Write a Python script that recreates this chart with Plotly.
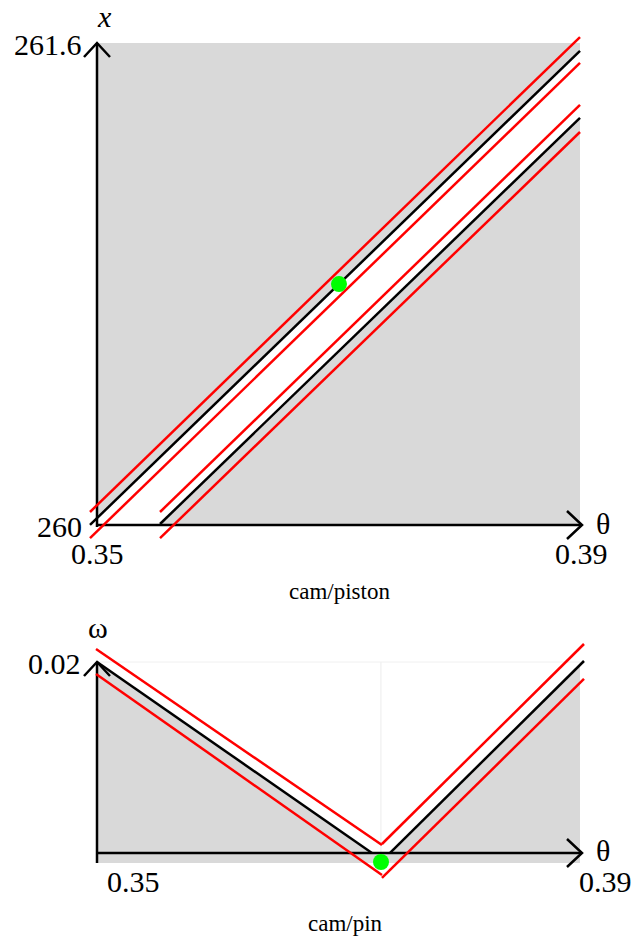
import plotly.graph_objects as go

W, H = 642, 941

# ---------------- data (top: cam/piston) ----------------
theta_range = [0.35, 0.39]
x_range = [260.0, 261.6]
omega_range = [0.0, 0.02]

top_theta_a = [0.34942, 0.39]
top_a_red_hi = [260.040, 261.620]
top_a_black = [259.997, 261.574]
top_a_red_lo = [259.953, 261.534]

top_theta_b = [0.35522, 0.39]
top_b_red_hi = [260.040, 261.394]
top_b_black = [260.000, 261.351]
top_b_red_lo = [259.953, 261.304]

top_point_theta = [0.37004]
top_point_x = [260.798]

# ---------------- data (bottom: cam/pin) ----------------
bot_theta_left_red = [0.34992, 0.37360]
bot_left_red_hi = [0.02129, 0.00179]
bot_left_red_lo = [0.01881, -0.00119]
bot_theta_left_black = [0.35, 0.37277]
bot_left_black = [0.02, 0.00100]

bot_theta_right_red = [0.37360, 0.39033]
bot_right_red_hi = [0.00189, 0.02179]
bot_right_red_lo = [-0.00149, 0.01831]
bot_theta_right_black = [0.37427, 0.39033]
bot_right_black = [0.00100, 0.02010]

bot_point_theta = [0.37352]
bot_point_omega = [0.0001]

top_ticks_x = ["0.35", "0.39"]
top_ticks_y = ["260", "261.6"]
bot_ticks_y = ["0.02"]

RED = "#ff0000"
BLACK = "#000000"
GREEN = "#00ff00"
GRAY = "#d9d9d9"
LW = 2.5
FONT = "Liberation Serif"

# pixel mapping helpers (layout constants)
PX_PER_THETA = 12075.0
TH0_PX = 97
def th_at(px):
    return 0.35 + (px - TH0_PX) / PX_PER_THETA

TOP_Y0_PX = 524
PX_PER_X = 300.6
def xv_at(py):
    return 260.0 + (TOP_Y0_PX - py) / PX_PER_X

BOT_Y0_PX = 863
PX_PER_W = 10050.0
def w_at(py):
    return (BOT_Y0_PX - py) / PX_PER_W

fig = go.Figure()

def line(xs, ys, color, xa="x", ya="y"):
    fig.add_trace(go.Scatter(x=xs, y=ys, mode="lines", xaxis=xa, yaxis=ya,
                             line=dict(color=color, width=LW), hoverinfo="skip",
                             showlegend=False))

# top traces
line(top_theta_a, top_a_red_hi, RED)
line(top_theta_a, top_a_black, BLACK)
line(top_theta_a, top_a_red_lo, RED)
line(top_theta_b, top_b_red_hi, RED)
line(top_theta_b, top_b_black, BLACK)
line(top_theta_b, top_b_red_lo, RED)
fig.add_trace(go.Scatter(x=top_point_theta, y=top_point_x, mode="markers",
                         marker=dict(color=GREEN, size=16), showlegend=False,
                         xaxis="x", yaxis="y"))
# bottom traces
line(bot_theta_left_red, bot_left_red_hi, RED, "x2", "y2")
line(bot_theta_left_black, bot_left_black, BLACK, "x2", "y2")
line(bot_theta_left_red, bot_left_red_lo, RED, "x2", "y2")
line(bot_theta_right_red, bot_right_red_hi, RED, "x2", "y2")
line(bot_theta_right_black, bot_right_black, BLACK, "x2", "y2")
line(bot_theta_right_red, bot_right_red_lo, RED, "x2", "y2")
fig.add_trace(go.Scatter(x=bot_point_theta, y=bot_point_omega, mode="markers",
                         marker=dict(color=GREEN, size=16), showlegend=False,
                         xaxis="x2", yaxis="y2"))

shapes = []
# top gray rect
shapes.append(dict(type="rect", xref="x", yref="y", x0=theta_range[0], x1=theta_range[1],
                   y0=x_range[0], y1=x_range[1], fillcolor=GRAY, line=dict(width=0), layer="below"))
# top white band between black lines
def interp(xs, ys, t):
    return ys[0] + (ys[1] - ys[0]) * (t - xs[0]) / (xs[1] - xs[0])
ya0 = interp(top_theta_a, top_a_black, theta_range[0])
ya1 = interp(top_theta_a, top_a_black, theta_range[1])
yb1 = interp(top_theta_b, top_b_black, theta_range[1])
path = (f"M {theta_range[0]},{x_range[0]} L {theta_range[0]},{ya0} L {theta_range[1]},{ya1} "
        f"L {theta_range[1]},{yb1} L {top_theta_b[0]},{top_b_black[0]} Z")
shapes.append(dict(type="path", xref="x", yref="y", path=path, fillcolor="white",
                   line=dict(width=0), layer="below"))

# bottom gray rect
shapes.append(dict(type="rect", xref="x2", yref="y2", x0=theta_range[0], x1=theta_range[1],
                   y0=omega_range[0], y1=omega_range[1], fillcolor=GRAY, line=dict(width=0), layer="below"))
tv = bot_point_theta[0]
wr = interp(bot_theta_right_black, bot_right_black, theta_range[1])
pl = (f"M {theta_range[0]},{omega_range[1]} L {bot_theta_left_black[1]},{bot_left_black[1]} "
      f"L {tv},{bot_left_black[1]} L {tv},{omega_range[1]} Z")
pr = (f"M {tv},{omega_range[1]} L {tv},{bot_right_black[0]} L {bot_theta_right_black[0]},{bot_right_black[0]} "
      f"L {theta_range[1]},{wr} L {theta_range[1]},{omega_range[1]} Z")
for p in (pl, pr):
    shapes.append(dict(type="path", xref="x2", yref="y2", path=p, fillcolor="white",
                       line=dict(width=1, color="#f0f0f0"), layer="below"))

AX = dict(color=BLACK, width=2.5)
# top axes
yax_top = xv_at(43)
shapes.append(dict(type="line", xref="x", yref="y", x0=0.35, x1=0.35, y0=xv_at(527), y1=yax_top, line=AX, layer="below"))
shapes.append(dict(type="line", xref="x", yref="y", x0=0.35, x1=th_at(582), y0=xv_at(525), y1=xv_at(525), line=AX, layer="below"))
# chevrons top
shapes.append(dict(type="path", xref="x", yref="y",
                   path=f"M {th_at(84)},{xv_at(57)} L {th_at(97)},{xv_at(43)} L {th_at(110)},{xv_at(57)}",
                   line=AX, layer="above"))
shapes.append(dict(type="path", xref="x", yref="y",
                   path=f"M {th_at(567)},{xv_at(511)} L {th_at(582)},{xv_at(525)} L {th_at(567)},{xv_at(539)}",
                   line=AX, layer="above"))
# bottom axes
shapes.append(dict(type="line", xref="x2", yref="y2", x0=0.35, x1=0.35, y0=w_at(863), y1=w_at(662), line=AX, layer="below"))
shapes.append(dict(type="line", xref="x2", yref="y2", x0=0.35, x1=th_at(582), y0=w_at(853), y1=w_at(853), line=AX, layer="below"))
shapes.append(dict(type="path", xref="x2", yref="y2",
                   path=f"M {th_at(84)},{w_at(676)} L {th_at(97)},{w_at(662)} L {th_at(110)},{w_at(676)}",
                   line=AX, layer="above"))
shapes.append(dict(type="path", xref="x2", yref="y2",
                   path=f"M {th_at(567)},{w_at(839)} L {th_at(582)},{w_at(853)} L {th_at(567)},{w_at(867)}",
                   line=AX, layer="above"))

def ann(text, px, py, xanchor="center", size=30):
    return dict(text=text, xref="paper", yref="paper", x=px / W, y=1 - py / H,
                xanchor=xanchor, yanchor="middle", showarrow=False,
                font=dict(family=FONT, size=size, color=BLACK))

annotations = [
    ann(top_ticks_y[1], 84, 44, "right"),
    ann(top_ticks_y[0], 84, 526, "right"),
    ann(top_ticks_x[0], 97, 553),
    ann(top_ticks_x[1], 581, 553),
    ann("<i>x</i>", 104, 17),
    ann("θ", 603, 523),
    ann("cam/piston", 339, 591, size=23),
    ann(bot_ticks_y[0], 83, 663, "right"),
    ann("ω", 98, 627),
    ann("θ", 603, 850),
    ann(top_ticks_x[0], 133, 881),
    ann(top_ticks_x[1], 605, 881),
    ann("cam/pin", 345, 923, size=23),
]

fig.update_layout(
    width=W, height=H, margin=dict(l=0, r=0, t=0, b=0),
    paper_bgcolor="white", plot_bgcolor="white",
    showlegend=False, shapes=shapes, annotations=annotations,
    xaxis=dict(domain=[0, 1], range=[th_at(0), th_at(W)], visible=False, anchor="y"),
    yaxis=dict(domain=[1 - 600 / H, 1], range=[xv_at(600), xv_at(0)], visible=False, anchor="x"),
    xaxis2=dict(domain=[0, 1], range=[th_at(0), th_at(W)], visible=False, anchor="y2"),
    yaxis2=dict(domain=[0, 1 - 610 / H], range=[w_at(H), w_at(610)], visible=False, anchor="x2"),
)

fig.write_html("out.html", config={"displayModeBar": False},
               post_script="document.body.style.margin='0';document.body.style.overflow='hidden';")
